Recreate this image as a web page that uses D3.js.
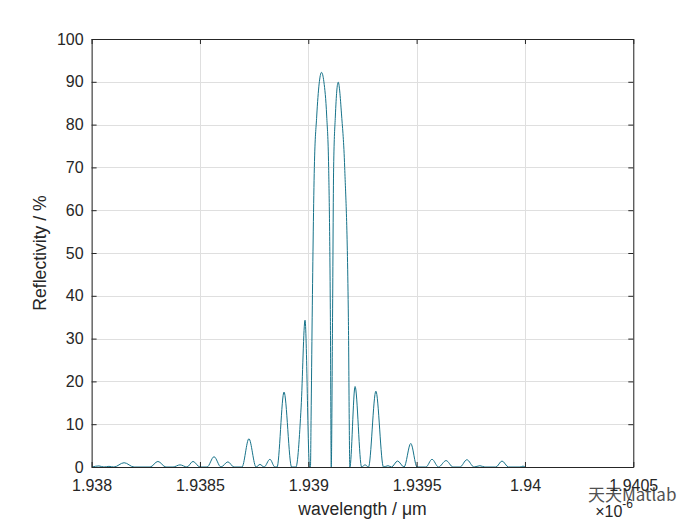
<!DOCTYPE html>
<html>
<head>
<meta charset="utf-8">
<script src="https://cdn.jsdelivr.net/npm/d3@7"></script>
<style>
  html, body { margin: 0; padding: 0; background: #ffffff; }
  svg { display: block; }
  text { font-family: "Liberation Sans", Arial, Helvetica, sans-serif; fill: #262626; }
</style>
</head>
<body>
<svg id="chart" width="700" height="525"></svg>
<script>
// ---- data (wavelength in nm, reflectivity in %) ----
const wavelengthNm = [
  1938.002, 1938.034, 1938.057, 1938.080, 1938.103, 1938.150, 1938.196,
  1938.270, 1938.306, 1938.343, 1938.376, 1938.408, 1938.440, 1938.468,
  1938.500, 1938.533, 1938.565, 1938.597, 1938.629, 1938.657, 1938.694,
  1938.726, 1938.759, 1938.777, 1938.796, 1938.823, 1938.846, 1938.856,
  1938.888, 1938.923, 1938.943, 1938.967, 1938.985, 1939.006, 1939.010,
  1939.013, 1939.018, 1939.028, 1939.039, 1939.050, 1939.061, 1939.072,
  1939.085, 1939.094, 1939.102, 1939.106, 1939.112, 1939.117, 1939.125,
  1939.138, 1939.154, 1939.168, 1939.185, 1939.192, 1939.216, 1939.246,
  1939.262, 1939.278, 1939.312, 1939.347, 1939.368, 1939.384, 1939.412,
  1939.442, 1939.473, 1939.502, 1939.543, 1939.571, 1939.601, 1939.636,
  1939.668, 1939.700, 1939.732, 1939.765, 1939.792, 1939.815, 1939.866,
  1939.894, 1939.924, 1939.977, 1939.991, 1940.000
];
const reflectivity = [
  0.0, 0.25, 0.0, 0.15, 0.0, 1.0, 0.0,
  0.0, 1.3, 0.0, 0.0, 0.5, 0.0, 1.3,
  0.0, 0.0, 2.4, 0.0, 1.2, 0.0, 0.0,
  6.6, 0.0, 0.6, 0.0, 1.8, 0.0, 0.0,
  17.5, 0.0, 0.0, 14.0, 34.3, 0.0, 0.0,
  11.7, 35.0, 70.0, 82.0, 89.5, 92.2, 90.0,
  82.0, 70.0, 35.0, 0.0, 35.0, 70.0, 82.0,
  89.9, 82.0, 70.0, 35.0, 0.0, 18.8, 0.0,
  0.5, 0.0, 17.7, 0.0, 0.3, 0.0, 1.4,
  0.0, 5.5, 0.0, 0.0, 1.8, 0.0, 1.5,
  0.0, 0.0, 1.7, 0.0, 0.3, 0.0, 0.0,
  1.4, 0.0, 0.0, 0.2, 0.0
];
const xTickValues = [1938, 1938.5, 1939, 1939.5, 1940, 1940.5];
const xTickLabels = ["1.938", "1.9385", "1.939", "1.9395", "1.94", "1.9405"];
const yTickValues = [0, 10, 20, 30, 40, 50, 60, 70, 80, 90, 100];
const xLabel = "wavelength / \u03bcm";
const yLabel = "Reflectivity / %";

// ---- layout ----
const svg = d3.select("#chart");
const L = 91.6, R = 633.3, T = 39, B = 467;
const x = d3.scaleLinear().domain([1938, 1940.5]).range([L, R]);
const y = d3.scaleLinear().domain([0, 100]).range([B, T]);
const axisColor = "#262626";

svg.append("rect").attr("width", 700).attr("height", 525).attr("fill", "#ffffff");

// grid
const grid = svg.append("g");
grid.selectAll("line.gx").data(xTickValues).join("line")
  .attr("x1", d => Math.round(x(d)) + 0.5).attr("x2", d => Math.round(x(d)) + 0.5)
  .attr("y1", T).attr("y2", B).attr("stroke", "#dfdfdf").attr("stroke-width", 1);
grid.selectAll("line.gy").data(yTickValues).join("line")
  .attr("y1", d => Math.round(y(d)) + 0.5).attr("y2", d => Math.round(y(d)) + 0.5)
  .attr("x1", L).attr("x2", R).attr("stroke", "#dfdfdf").attr("stroke-width", 1);

// curve
const pts = wavelengthNm.map((w, i) => [w, reflectivity[i]]);
const line = d3.line().x(d => x(d[0])).y(d => y(d[1])).curve(d3.curveMonotoneX);
svg.append("path").datum(pts).attr("d", line)
  .attr("fill", "none").attr("stroke", "#17738a").attr("stroke-width", 1);

// axes
const fmtX = d => xTickLabels[xTickValues.indexOf(d)];
const gx = svg.append("g").attr("transform", `translate(0,${B})`)
  .call(d3.axisBottom(x).tickValues(xTickValues).tickFormat(fmtX)
    .tickSizeInner(-5).tickSizeOuter(0).tickPadding(13));
const gy = svg.append("g").attr("transform", `translate(${L},0)`)
  .call(d3.axisLeft(y).tickValues(yTickValues).tickFormat(d3.format("d"))
    .tickSizeInner(-5).tickSizeOuter(0).tickPadding(8));
const gt = svg.append("g").attr("transform", `translate(0,${T})`)
  .call(d3.axisTop(x).tickValues(xTickValues).tickFormat("")
    .tickSizeInner(-5).tickSizeOuter(0));
const gr = svg.append("g").attr("transform", `translate(${R},0)`)
  .call(d3.axisRight(y).tickValues(yTickValues).tickFormat("")
    .tickSizeInner(-5).tickSizeOuter(0));
[gx, gy, gt, gr].forEach(g => {
  g.selectAll("path.domain").attr("stroke", axisColor);
  g.selectAll(".tick line").attr("stroke", axisColor);
  g.selectAll(".tick text").attr("fill", axisColor)
    .style("font-family", "'Liberation Sans', Arial, sans-serif").style("font-size", "16px");
});

// labels
svg.append("text").attr("x", (L + R) / 2).attr("y", 515).attr("text-anchor", "middle")
  .style("font-size", "17.6px").text(xLabel);
svg.append("text").attr("transform", `translate(46,${(T + B) / 2}) rotate(-90)`)
  .attr("text-anchor", "middle").style("font-size", "17.6px").text(yLabel);

// exponent
const ex = svg.append("text").attr("x", 633).attr("y", 517).attr("text-anchor", "end")
  .style("font-size", "16px");
ex.append("tspan").text("\u00d710");
ex.append("tspan").attr("dy", -9).style("font-size", "12px").text("-6");

// watermark
svg.append("text").attr("x", 588).attr("y", 501).style("font-size", "17px")
  .style("font-family", "'Noto Sans CJK SC', 'Liberation Sans', sans-serif")
  .attr("fill", "#c4c4c4").attr("opacity", 0.8).text("天天Matlab");
</script>
</body>
</html>
